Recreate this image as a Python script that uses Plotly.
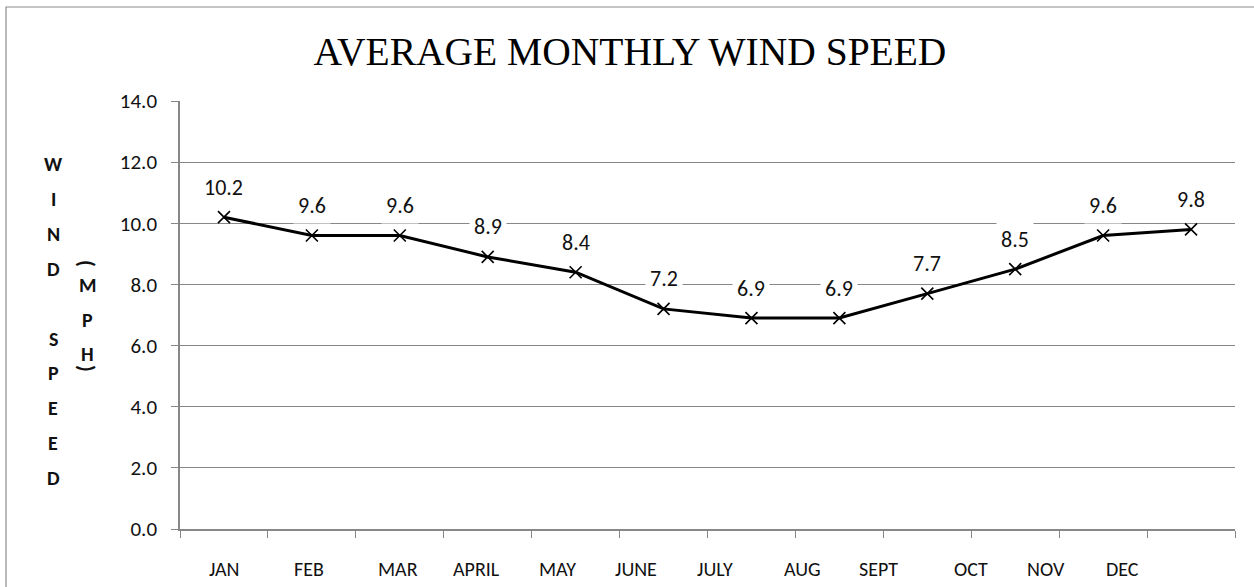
import plotly.graph_objects as go

# ---- data ----
months = ["JAN", "FEB", "MAR", "APRIL", "MAY", "JUNE", "JULY", "AUG", "SEPT", "OCT", "NOV", "DEC"]
wind_mph = [10.2, 9.6, 9.6, 8.9, 8.4, 7.2, 6.9, 6.9, 7.7, 8.5, 9.6, 9.8]
# the month labels in the original sit slightly off their category centres
month_label_pos = [0.01, 0.97, 1.98, 2.87, 3.79, 4.69, 5.59, 6.58, 7.44, 8.50, 9.35, 10.22]
y_ticks = [0, 2, 4, 6, 8, 10, 12, 14]
title_text = "AVERAGE MONTHLY WIND SPEED"
ytitle_letters = ["W", "I", "N", "D", "", "S", "P", "E", "E", "D"]
unit_letters = ["M", "P", "H"]

# ---- layout in pixels ----
W, H = 1254, 587
PL, PR, PT, PB = 180, 1235, 101, 529
GRID = "#878787"
FONT = "Carlito, Lato, sans-serif"


def px_x(px):
    return (px - PL) / (PR - PL)


def px_y(py):
    return (PB - py) / (PB - PT)


x_idx = list(range(len(months)))

fig = go.Figure()
fig.add_trace(go.Scatter(
    x=x_idx, y=wind_mph, mode="lines+markers",
    line=dict(color="black", width=3),
    marker=dict(symbol="x-thin", size=12, color="black", line=dict(color="black", width=1.6)),
    hoverinfo="skip", showlegend=False,
))

annotations = []
# data labels
for xi, v in zip(x_idx, wind_mph):
    annotations.append(dict(
        x=xi, y=v, xref="x", yref="y", text=f"{v:.1f}", showarrow=False,
        yshift=30, bgcolor="white", borderpad=4,
        font=dict(family=FONT, size=22, color="#111"),
        xanchor="center", yanchor="middle",
    ))
# month labels
for pos, m in zip(month_label_pos, months):
    annotations.append(dict(
        x=pos, y=px_y(569), xref="x", yref="paper", text=m, showarrow=False,
        font=dict(family=FONT, size=20, color="#111"), xanchor="center", yanchor="middle",
    ))
# vertical y-axis title
for i, ch in enumerate(ytitle_letters):
    if not ch:
        continue
    annotations.append(dict(
        x=px_x(53), y=px_y(164 + 34.9 * i), xref="paper", yref="paper", text=f"<b>{ch}</b>",
        showarrow=False, font=dict(family=FONT, size=20, color="#111"),
        xanchor="center", yanchor="middle",
    ))
for i, ch in enumerate(unit_letters):
    annotations.append(dict(
        x=px_x(87), y=px_y(285 + 34.5 * i), xref="paper", yref="paper", text=f"<b>{ch}</b>",
        showarrow=False, font=dict(family=FONT, size=20, color="#111"),
        xanchor="center", yanchor="middle",
    ))
annotations.append(dict(x=px_x(87), y=px_y(263), xref="paper", yref="paper", text="<b>(</b>",
                        textangle=90, showarrow=False, font=dict(family=FONT, size=22, color="#111"),
                        xanchor="center", yanchor="middle"))
annotations.append(dict(x=px_x(87), y=px_y(368), xref="paper", yref="paper", text="<b>)</b>",
                        textangle=90, showarrow=False, font=dict(family=FONT, size=22, color="#111"),
                        xanchor="center", yanchor="middle"))

fig.update_layout(
    width=W, height=H,
    margin=dict(l=PL, r=W - PR, t=PT, b=H - PB, pad=0),
    paper_bgcolor="white", plot_bgcolor="white",
    title=dict(text=title_text, x=630 / W, xref="container", xanchor="center",
               y=1 - 51 / H, yref="container", yanchor="middle",
               font=dict(family="Liberation Serif, Times New Roman, serif", size=39.5, color="black")),
    annotations=annotations,
    shapes=[dict(type="rect", xref="paper", yref="paper",
                 x0=px_x(6), x1=px_x(1275), y0=px_y(610), y1=px_y(7),
                 line=dict(color="#8c8c8c", width=1.2), fillcolor="rgba(0,0,0,0)", layer="below")],
)
fig.update_xaxes(
    range=[-0.5, len(months) - 0.5], showgrid=False, zeroline=False,
    showline=True, linecolor=GRID, linewidth=1.5,
    tickmode="array", tickvals=[], showticklabels=False, ticks="",
    minor=dict(tickmode="array", tickvals=[i - 0.5 for i in range(len(months) + 1)],
               ticks="outside", ticklen=7, tickcolor=GRID, tickwidth=1, showgrid=False),
)
fig.update_yaxes(
    range=[0, 14], tickmode="array", tickvals=y_ticks, tickformat=".1f",
    showgrid=True, gridcolor=GRID, gridwidth=1, zeroline=False,
    showline=True, linecolor=GRID, linewidth=1.5,
    ticks="outside", ticklen=7, tickcolor=GRID, ticklabelstandoff=10,
    tickfont=dict(family=FONT, size=21, color="#111"),
)

fig.write_html("out.html", config={"displayModeBar": False},
               post_script="document.body.style.margin='0';document.body.style.overflow='hidden';")
